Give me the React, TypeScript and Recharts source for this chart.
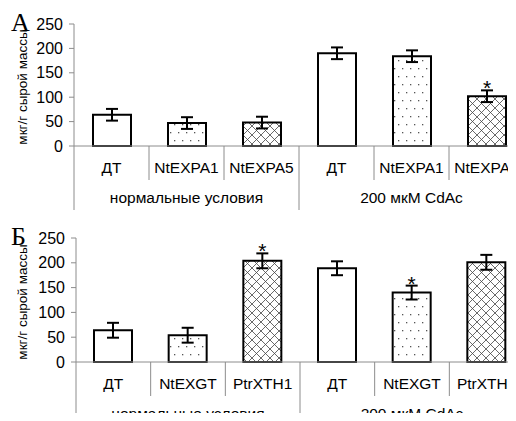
import React from 'react';
import { BarChart, Bar, XAxis, YAxis, Cell, ErrorBar, LabelList } from 'recharts';

// shared
const groupLabels = ['нормальные условия', '200 мкМ CdAc'];
const yTicks = [0, 50, 100, 150, 200, 250];
const fills = ['white', 'dots', 'cross', 'white', 'dots', 'cross'];

// panel A
const categoriesA = ['ДТ', 'NtEXPA1', 'NtEXPA5', 'ДТ', 'NtEXPA1', 'NtEXPA5'];
const valuesA = [64, 47, 48, 190, 184, 102];
const errorsA = [12, 12, 12, 12, 12, 12];
const starsA = [false, false, false, false, false, true];

// panel B
const categoriesB = ['ДТ', 'NtEXGT', 'PtrXTH1', 'ДТ', 'NtEXGT', 'PtrXTH1'];
const valuesB = [64, 54, 204, 189, 140, 201];
const errorsB = [15, 15, 15, 14, 14, 15];
const starsB = [false, false, true, false, true, false];

const SANS = '"Liberation Sans", Arial, sans-serif';
const SERIF = '"Liberation Serif", "Times New Roman", serif';
const GRAY = '#8c8c8c';
const CHART_W = 524;
const CHART_H = 214;

type PanelProps = {
  id: string;
  letter: string;
  categories: string[];
  values: number[];
  errors: number[];
  stars: boolean[];
  axisX: number;
  plotTop: number;
  plotBottom: number;
};

const Panel = ({ id, letter, categories, values, errors, stars, axisX, plotTop, plotBottom }: PanelProps) => {
  const data = categories.map((c, i) => ({ id: `${i}`, name: c, value: values[i], err: errors[i] }));
  const band = (CHART_W - axisX) / categories.length;
  const k = (plotBottom - plotTop) / 250;

  const CatTick = (props: any) => {
    const { x, index } = props;
    const y0 = plotBottom;
    const groupEnd = index % 3 === 2;
    return (
      <g>
        <text x={x} y={y0 + 27} textAnchor="middle" fontSize={15.5} fontFamily={SANS} fill="#000">
          {categories[index]}
        </text>
        <line x1={x + band / 2} x2={x + band / 2} y1={y0} y2={y0 + (groupEnd ? 64 : 34)} stroke={GRAY} />
        {index === 0 && <line x1={x - band / 2} x2={x - band / 2} y1={y0} y2={y0 + 64} stroke={GRAY} />}
        {index % 3 === 1 && (
          <text x={x} y={y0 + 57} textAnchor="middle" fontSize={15.5} fontFamily={SANS} fill="#000">
            {groupLabels[Math.floor(index / 3)]}
          </text>
        )}
      </g>
    );
  };

  const cy = (plotTop + plotBottom) / 2 + 2;

  return (
    <BarChart
      width={CHART_W}
      height={CHART_H}
      data={data}
      margin={{ top: plotTop, right: 0, bottom: 0, left: 0 }}
    >
      <defs>
        <pattern id={`${id}-dots`} width={8} height={16} patternUnits="userSpaceOnUse">
          <rect width={8} height={16} fill="#fff" />
          <rect x={2} y={4} width={1.3} height={1.3} fill="#555" />
          <rect x={6} y={12} width={1.3} height={1.3} fill="#555" />
        </pattern>
        <pattern id={`${id}-cross`} width={9} height={9} patternUnits="userSpaceOnUse">
          <rect width={9} height={9} fill="#fff" />
          <path d="M0,0 L9,9 M9,0 L0,9" stroke="#444" strokeWidth={0.8} />
        </pattern>
      </defs>
      <XAxis
        dataKey="id"
        height={CHART_H - plotBottom}
        axisLine={{ stroke: GRAY }}
        tickLine={false}
        interval={0}
        tick={<CatTick />}
      />
      <YAxis
        width={axisX}
        domain={[0, 250]}
        ticks={yTicks}
        interval={0}
        axisLine={{ stroke: GRAY }}
        tickLine={{ stroke: GRAY }}
        tickSize={5}
        tickMargin={6}
        tick={{ fontSize: 16, fill: '#000', fontFamily: SANS }}
        label={{
          content: () => (
            <g>
              <text
                x={22}
                y={cy}
                transform={`rotate(-90 22 ${cy})`}
                textAnchor="middle"
                dominantBaseline="central"
                fontSize={13.5}
                fontFamily={SANS}
                fill="#000"
              >
                мкг/г сырой массы
              </text>
              <text x={11} y={plotTop + 7} fontSize={26} fontFamily={SERIF} fill="#000">
                {letter}
              </text>
            </g>
          ),
        }}
      />
      <Bar dataKey="value" barSize={38} stroke="#000" strokeWidth={2} isAnimationActive={false}>
        {data.map((d, i) => (
          <Cell key={d.id} fill={fills[i] === 'white' ? '#fff' : `url(#${id}-${fills[i]})`} />
        ))}
        <ErrorBar dataKey="err" width={6} stroke="#000" strokeWidth={2} isAnimationActive={false} />
        <LabelList
          dataKey="value"
          content={(p: any) => {
            const { x, y, width, index } = p;
            if (!stars[index]) return null;
            const errTop = Number(y) - errors[index] * k;
            return (
              <text
                x={Number(x) + Number(width) / 2}
                y={errTop + 5}
                textAnchor="middle"
                fontSize={21}
                fontFamily={SANS}
                fill="#000"
              >
                *
              </text>
            );
          }}
        />
      </Bar>
    </BarChart>
  );
};

export default function App() {
  return (
    <div style={{ position: 'relative', width: 516, height: 421, overflow: 'hidden', margin: -8, background: '#fff' }}>
      <div style={{ position: 'absolute', left: 0, top: 0 }}>
        <Panel
          id="a"
          letter="А"
          categories={categoriesA}
          values={valuesA}
          errors={errorsA}
          stars={starsA}
          axisX={74}
          plotTop={24}
          plotBottom={146}
        />
      </div>
      <div style={{ position: 'absolute', left: 0, top: 214 }}>
        <Panel
          id="b"
          letter="Б"
          categories={categoriesB}
          values={valuesB}
          errors={errorsB}
          stars={starsB}
          axisX={76}
          plotTop={24}
          plotBottom={148}
        />
      </div>
    </div>
  );
}
